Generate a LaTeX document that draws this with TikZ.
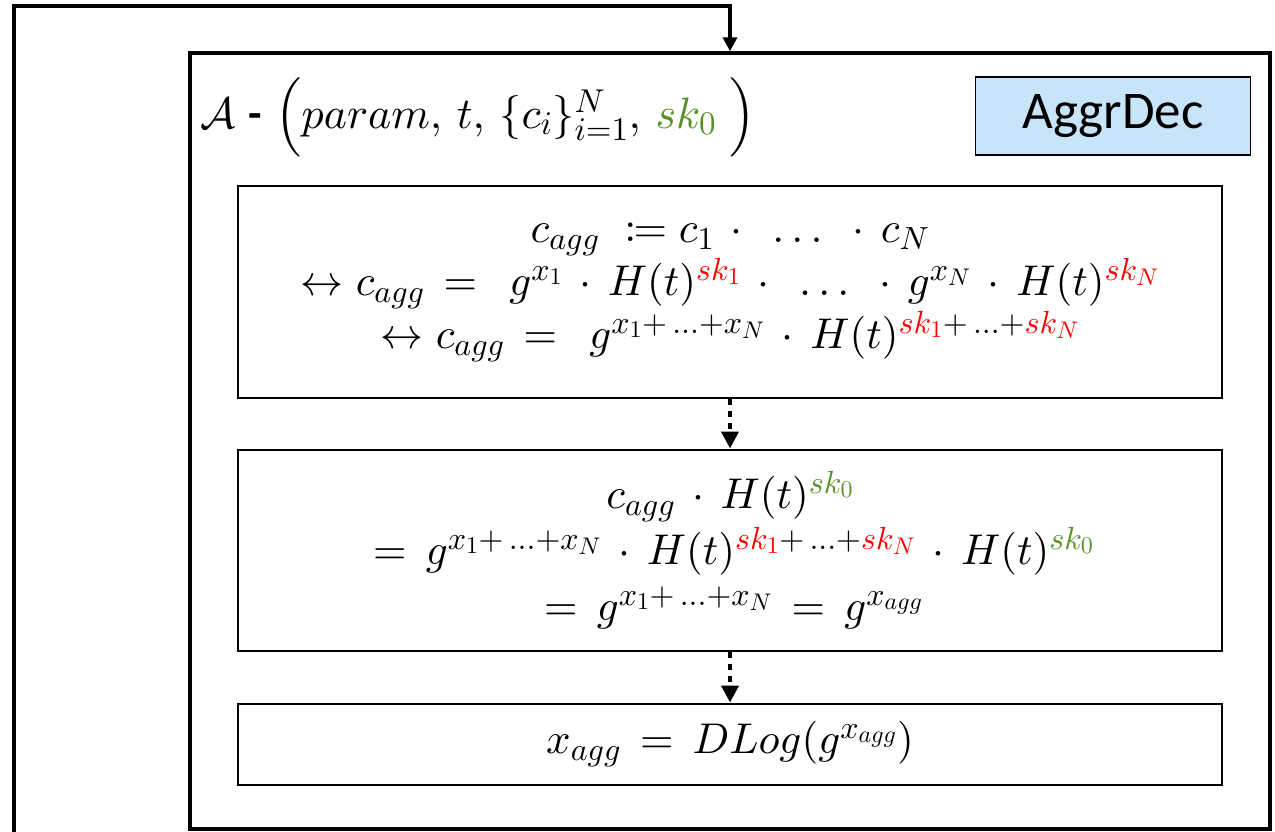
\documentclass[tikz,border=0pt]{standalone}
\usepackage{fontspec}
\usepackage{amsmath,mathtools}
\usetikzlibrary{arrows.meta}
\DeclareFontShape{OML}{cmm}{m}{it}{<-> cmmi10}{}
\DeclareFontShape{OML}{cmm}{b}{it}{<-> cmmib10}{}
\DeclareFontShape{OMS}{cmsy}{m}{n}{<-> cmsy10}{}
\DeclareFontShape{OMS}{cmsy}{b}{n}{<-> cmbsy10}{}
\DeclareFontShape{OMX}{cmex}{m}{n}{<-> cmex10}{}
\DeclareFontShape{OT1}{cmr}{m}{n}{<-> cmr10}{}
\DeclareMathSizes{43}{43}{32}{24}
\DeclareMathSizes{44}{44}{33}{25}
\newfontfamily\carlito{Carlito}
\definecolor{grn}{RGB}{88,145,38}
\definecolor{lblue}{RGB}{200,228,248}
\newcommand{\mdot}{\mathbin{\,\cdot\,}}
\newcommand{\meq}{\mathrel{\,=\,}}
\tikzset{
  thickline/.style={line width=3.5pt},
  stepbox/.style={draw, line width=2pt, align=center, inner sep=0pt, font=\fontsize{43}{53}\selectfont},
  loopline/.style={line width=3.5pt, -{Triangle[length=14pt,width=14pt]}},
  dasharr/.style={line width=4pt, dash pattern=on 6pt off 6pt, -{Triangle[length=17pt,width=17pt]}},
}
\begin{document}
\begin{tikzpicture}[x=1pt,y=-1pt]
\useasboundingbox (0,0) rectangle (1275,831);
\node[draw, thickline, minimum width=1080pt, minimum height=776pt, inner sep=0pt] (outer) at (730,441) {};
\coordinate (loopstart) at (14,833);
\coordinate (looptop) at (730,6);
\draw[loopline] (loopstart) |- (looptop) -- (outer.north);
\node[anchor=west, inner sep=0pt, font=\fontsize{44}{50}\selectfont] (title) at (200,117)
  {$\mathcal{A}$ {\carlito\bfseries -} $\Bigl(param,\, t,\, \{c_i\}_{i=1}^{N},\, {\color{grn}sk_0}\ \Bigr)$};
\node[draw, line width=1.5pt, fill=lblue, minimum width=275pt, minimum height=78pt, inner sep=0pt, font=\fontsize{53}{60}\carlito] (aggr) at (1113,116) {AggrDec};
\node[stepbox, minimum width=984pt, minimum height=212pt] (b1) at (730,292)
  {$c_{agg}\ \coloneqq c_1\mdot\ \ldots\ \mdot c_N$\\
   $\leftrightarrow c_{agg} \meq\ g^{x_1}\mdot H(t)^{\color{red}sk_1}\mdot\ \ldots\ \mdot g^{x_N}\mdot H(t)^{\color{red}sk_N}$\\
   $\leftrightarrow c_{agg} \meq\ g^{x_1+\,\ldots+x_N}\mdot H(t)^{{\color{red}sk_1}+\,\ldots+{\color{red}sk_N}}$};
\node[stepbox, minimum width=984pt, minimum height=201pt, font=\fontsize{43}{56}\selectfont] (b2) at (730,550)
  {$c_{agg}\mdot H(t)^{\color{grn}sk_0}$\\
   $\meq g^{x_1+\,\ldots+x_N}\mdot H(t)^{{\color{red}sk_1}+\,\ldots+{\color{red}sk_N}}\mdot H(t)^{\color{grn}sk_0}$\\
   $\meq g^{x_1+\,\ldots+x_N} \meq g^{x_{agg}}$};
\node[stepbox, minimum width=984pt, minimum height=81pt] (b3) at (730,744)
  {$x_{agg} \meq DLog(g^{x_{agg}})$};
\draw[dasharr] (b1.south) -- (b2.north);
\draw[dasharr] (b2.south) -- (b3.north);
\end{tikzpicture}
\end{document}
